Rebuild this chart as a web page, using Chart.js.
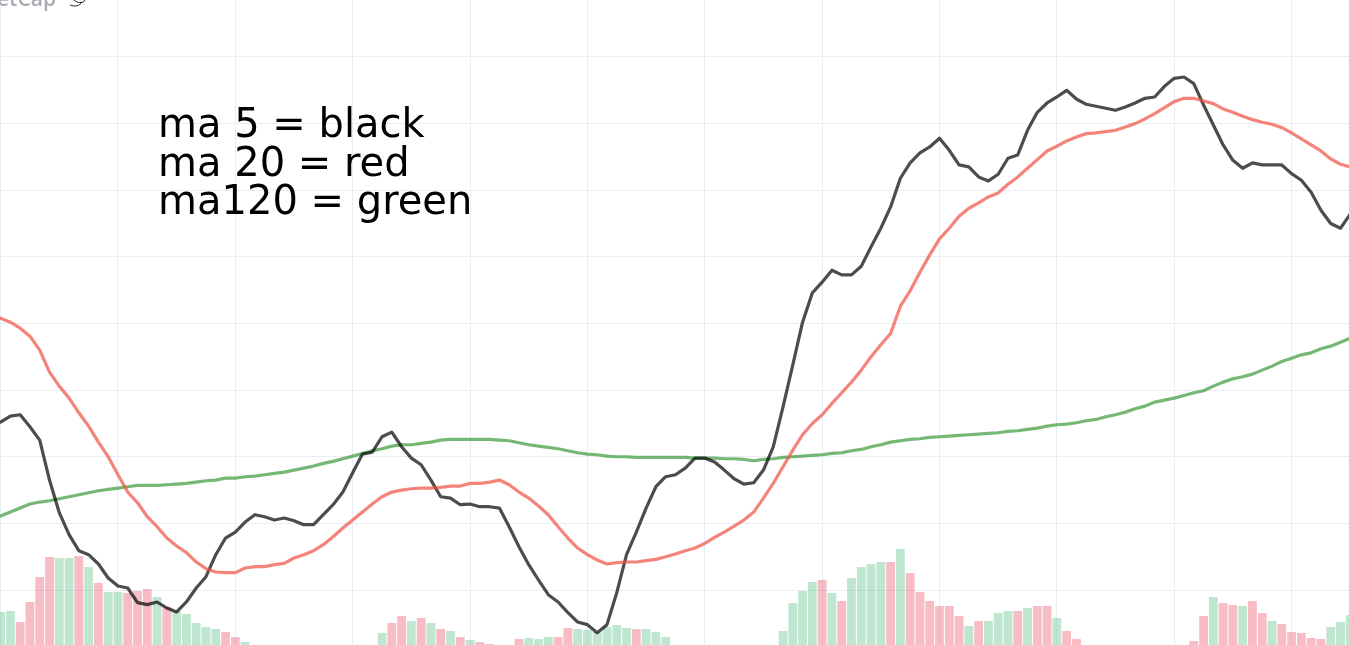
<!DOCTYPE html>
<html>
<head>
<meta charset="utf-8">
<script src="https://cdn.jsdelivr.net/npm/chart.js@4.4.1/dist/chart.umd.min.js"></script>
<style>
  html, body { margin: 0; padding: 0; background: #fff; overflow: hidden; }
  #wrap { position: relative; width: 1349px; height: 645px; }
</style>
</head>
<body>
<div id="wrap"><canvas id="myChart" width="1349" height="645"></canvas></div>
<script>
// moving averages, one value per trading day (left to right)
const ma5 = [
  125.2, 126.1, 126.3, 124.5, 122.5, 116.5, 111.6, 108.3, 105.9, 105.3,
  103.9, 101.8, 100.6, 100.3, 98.1, 97.8, 98.2, 97.3, 96.7, 98.2,
  100.3, 102.0, 105.3, 107.8, 108.7, 110.2, 111.3, 111.0, 110.5, 110.8,
  110.4, 109.8, 109.8, 111.3, 112.8, 114.7, 117.6, 120.4, 120.7, 123.0,
  123.7, 121.5, 119.8, 118.8, 116.5, 114.0, 113.8, 112.8, 112.9, 112.5,
  112.5, 112.3, 109.5, 106.5, 103.8, 101.5, 99.3, 98.2, 96.6, 95.2,
  94.8, 93.6, 94.8, 99.6, 105.3, 108.7, 112.3, 115.5, 117.0, 117.3,
  118.3, 119.8, 119.8, 119.2, 118.0, 116.7, 115.9, 116.1, 118.0, 121.5,
  127.5, 133.8, 140.2, 144.6, 146.2, 148.0, 147.3, 147.3, 148.6, 151.5,
  154.3, 157.5, 161.8, 164.1, 165.6, 166.5, 167.8, 166.0, 163.8, 163.5,
  162.0, 161.4, 162.4, 164.8, 165.3, 169.0, 171.7, 173.1, 174.0, 175.0,
  173.7, 172.9, 172.6, 172.3, 172.0, 172.5, 173.1, 173.8, 174.0, 175.6,
  176.8, 177.0, 176.0, 172.8, 169.8, 166.8, 164.5, 163.3, 164.1, 163.8,
  163.8, 163.8, 162.5, 161.5, 159.7, 157.0, 155.0, 154.3, 156.4
];

const ma20 = [
  140.8, 140.2, 139.3, 138.1, 136.0, 132.7, 130.6, 128.8, 126.6, 124.6,
  122.2, 120.0, 117.3, 114.7, 113.1, 111.0, 109.5, 107.8, 106.6, 105.6,
  104.2, 103.2, 102.7, 102.6, 102.6, 103.3, 103.5, 103.5, 103.8, 104.0,
  104.8, 105.3, 105.9, 106.8, 108.0, 109.3, 110.5, 111.7, 112.9, 114.0,
  114.7, 115.0, 115.2, 115.3, 115.3, 115.4, 115.6, 115.6, 116.0, 116.0,
  116.2, 116.5, 115.8, 114.7, 113.8, 112.6, 111.3, 109.5, 107.8, 106.3,
  105.3, 104.5, 103.9, 104.1, 104.2, 104.2, 104.4, 104.6, 105.0, 105.4,
  105.9, 106.3, 107.0, 107.9, 108.7, 109.6, 110.5, 111.7, 113.8, 116.0,
  118.5, 121.0, 123.3, 125.0, 126.3, 128.0, 129.6, 131.2, 133.0, 135.0,
  136.8, 138.5, 142.6, 144.9, 147.7, 150.3, 152.7, 154.3, 156.1, 157.3,
  158.1, 159.0, 159.6, 160.9, 162.0, 163.3, 164.6, 165.9, 166.6, 167.4,
  168.0, 168.5, 168.6, 168.8, 169.0, 169.5, 170.0, 170.7, 171.5, 172.4,
  173.3, 173.8, 173.8, 173.4, 173.0, 172.2, 171.7, 171.1, 170.6, 170.2,
  169.9, 169.4, 168.6, 167.7, 166.8, 165.9, 164.7, 163.9, 163.5
];

const ma120 = [
  111.1, 111.7, 112.3, 112.9, 113.2, 113.4, 113.7, 114.0, 114.3, 114.6,
  114.9, 115.1, 115.3, 115.5, 115.7, 115.7, 115.7, 115.8, 115.9, 116.0,
  116.2, 116.4, 116.5, 116.8, 116.8, 117.0, 117.1, 117.3, 117.5, 117.7,
  118.0, 118.3, 118.6, 119.0, 119.3, 119.7, 120.1, 120.5, 120.9, 121.2,
  121.6, 121.8, 121.8, 122.0, 122.2, 122.5, 122.6, 122.6, 122.6, 122.6,
  122.6, 122.5, 122.4, 122.1, 121.8, 121.6, 121.4, 121.2, 120.9, 120.6,
  120.4, 120.3, 120.1, 120.0, 120.0, 119.9, 119.9, 119.9, 119.9, 119.9,
  119.9, 119.8, 119.8, 119.8, 119.7, 119.7, 119.6, 119.4, 119.6, 119.7,
  119.9, 120.0, 120.1, 120.2, 120.3, 120.5, 120.6, 120.9, 121.1, 121.5,
  121.8, 122.2, 122.4, 122.6, 122.7, 122.9, 123.0, 123.1, 123.2, 123.3,
  123.4, 123.5, 123.6, 123.8, 123.9, 124.1, 124.3, 124.6, 124.8, 124.9,
  125.1, 125.4, 125.6, 126.0, 126.3, 126.7, 127.2, 127.6, 128.2, 128.5,
  128.8, 129.2, 129.6, 129.9, 130.6, 131.2, 131.7, 132.0, 132.4, 133.0,
  133.6, 134.3, 134.8, 135.3, 135.6, 136.2, 136.6, 137.2, 137.8
];

// volume (only the top of each bar is in view)
const volume = [
  3.3, 3.4, 2.3, 4.3, 6.8, 8.8, 8.7, 8.7, 8.9, 7.8,
  6.2, 5.3, 5.3, 5.2, 5.4, 5.6, 4.8, 3.8, 3.4, 3.1,
  2.2, 1.8, 1.6, 1.3, 0.8, 0.3, 0, 0, 0, 0,
  0, 0, 0, 0, 0, 0, 0, 0, 0, 1.2,
  2.2, 2.9, 2.4, 2.7, 2.2, 1.6, 1.4, 0.8, 0.5, 0.3,
  0.1, 0, 0, 0.6, 0.7, 0.6, 0.8, 0.8, 1.7, 1.6,
  1.5, 1.3, 1.8, 2.0, 1.7, 1.6, 1.6, 1.3, 0.8, 0,
  0, 0, 0, 0, 0, 0, 0, 0, 0, 0,
  1.4, 4.2, 5.4, 6.3, 6.5, 5.2, 4.4, 6.7, 7.8, 8.1,
  8.3, 8.3, 9.6, 7.2, 5.3, 4.4, 3.9, 3.9, 2.9, 1.9,
  2.4, 2.4, 3.2, 3.4, 3.4, 3.7, 3.9, 3.9, 2.7, 1.4,
  0.6, 0, 0, 0, 0, 0, 0, 0, 0, 0,
  0, 0, 0.4, 2.9, 4.8, 4.2, 4.0, 3.9, 4.4, 3.2,
  2.4, 2.1, 1.3, 1.2, 0.7, 0.6, 1.8, 2.3, 3.0
];

// 1 = up day (green bar), 0 = down day (pink bar)
const volUp = [
  1, 1, 0, 0, 0, 0, 1, 1, 0, 1,
  0, 1, 1, 0, 0, 0, 1, 0, 1, 1,
  1, 1, 1, 0, 0, 1, 0, 0, 0, 0,
  0, 0, 0, 0, 0, 0, 0, 0, 0, 1,
  0, 0, 1, 0, 1, 0, 1, 0, 1, 0,
  0, 0, 0, 0, 1, 1, 1, 0, 0, 1,
  1, 1, 1, 1, 1, 0, 1, 1, 1, 0,
  0, 0, 0, 0, 0, 0, 0, 0, 0, 0,
  1, 1, 1, 1, 0, 1, 0, 1, 1, 1,
  1, 0, 1, 0, 0, 0, 0, 0, 0, 1,
  0, 1, 1, 1, 0, 1, 0, 0, 1, 0,
  0, 0, 0, 0, 0, 0, 0, 0, 0, 0,
  0, 0, 0, 0, 1, 0, 0, 1, 0, 0,
  1, 0, 0, 0, 0, 0, 1, 1, 1
];

const noteLines = ['ma 5 = black', 'ma 20 = red', 'ma120 = green'];
const titleText = 'etCap';

const days = ma5.map((_, i) => i);
const toPoints = arr => arr.map((v, i) => ({ x: days[i], y: v }));

const gridColor = '#e9eef5';
const upColor = 'rgba(60, 179, 113, 0.33)';
const downColor = 'rgba(235, 80, 100, 0.38)';

// annotation text + cut-off title in the corner
const notesPlugin = {
  id: 'notes',
  afterDraw(chart) {
    const ctx = chart.ctx;
    ctx.save();
    ctx.textBaseline = 'alphabetic';
    ctx.fillStyle = '#000';
    ctx.font = '40px "DejaVu Sans"';
    noteLines.forEach((t, k) => ctx.fillText(t, 158, 137 + k * 38.5));

    ctx.fillStyle = '#a9adb3';
    ctx.font = '600 21px "Open Sans"';
    ctx.fillText(titleText, -3, 6);

    // little logo squiggle next to the title
    ctx.strokeStyle = '#222';
    ctx.lineWidth = 1;
    ctx.beginPath();
    ctx.moveTo(70, 5);
    ctx.bezierCurveTo(74, 7, 80, 6, 82, 2);
    ctx.moveTo(74, 0);
    ctx.bezierCurveTo(77, 3, 83, 4, 85, 0);
    ctx.stroke();
    ctx.restore();
  }
};

const lineStyle = {
  type: 'line',
  borderWidth: 3.2,
  pointRadius: 0,
  tension: 0,
  borderJoinStyle: 'round',
  borderCapStyle: 'round'
};

const ctx = document.getElementById('myChart').getContext('2d');

new Chart(ctx, {
  type: 'bar',
  data: {
    datasets: [
      { ...lineStyle, label: 'ma 20', data: toPoints(ma20), borderColor: 'rgba(240, 80, 65, 0.7)', order: 1 },
      { ...lineStyle, label: 'ma 5', data: toPoints(ma5), borderColor: 'rgba(0, 0, 0, 0.7)', order: 2 },
      { ...lineStyle, label: 'ma120', data: toPoints(ma120), borderColor: 'rgba(30, 140, 30, 0.62)', order: 3 },
      {
        type: 'bar',
        label: 'volume',
        data: toPoints(volume),
        yAxisID: 'y1',
        backgroundColor: volUp.map(u => (u ? upColor : downColor)),
        borderWidth: 0,
        barPercentage: 0.9,
        categoryPercentage: 1,
        order: 4
      }
    ]
  },
  options: {
    responsive: false,
    animation: false,
    devicePixelRatio: 1,
    layout: { padding: 0 },
    plugins: {
      legend: { display: false },
      tooltip: { enabled: false }
    },
    scales: {
      x: {
        type: 'linear',
        min: -0.061,
        max: 137.87,
        offset: false,
        grid: { offset: false, color: gridColor, lineWidth: 1, drawTicks: false },
        border: { display: false },
        ticks: { display: false, stepSize: 12, includeBounds: false }
      },
      y: {
        type: 'linear',
        min: 91.745,
        max: 188.555,
        beginAtZero: false,
        grid: { color: gridColor, lineWidth: 1, drawTicks: false },
        border: { display: false },
        ticks: { display: false, stepSize: 10, includeBounds: false }
      },
      y1: {
        type: 'linear',
        display: false,
        min: 0,
        max: 64.5
      }
    }
  },
  plugins: [notesPlugin]
});
</script>
</body>
</html>
